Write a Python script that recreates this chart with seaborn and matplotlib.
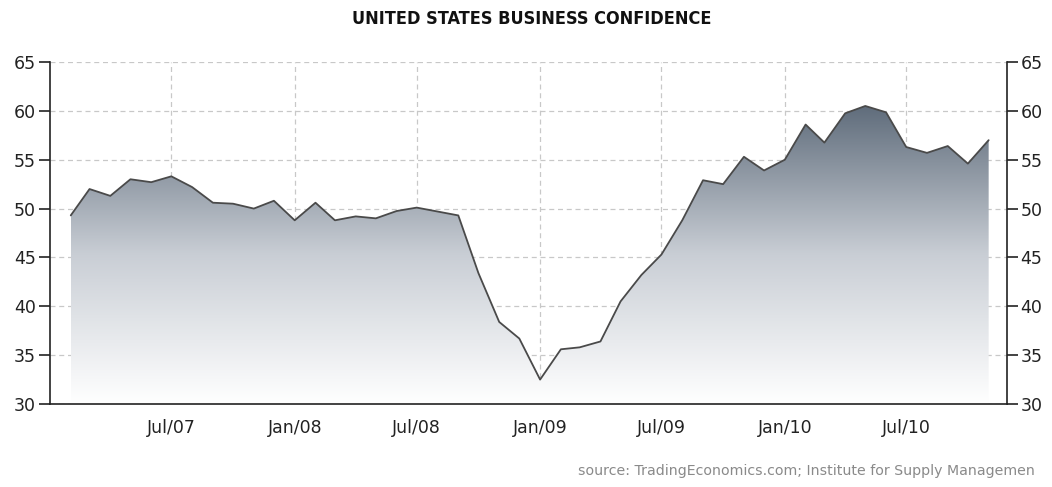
import numpy as np
import pandas as pd
import seaborn as sns
import matplotlib.pyplot as plt
import matplotlib.dates as mdates
from matplotlib.colors import LinearSegmentedColormap

sns.set_style('white')

# monthly ISM index, Feb 2007 - Nov 2010
months = pd.date_range('2007-02-01', '2010-11-01', freq='MS')
values = [49.3, 52.0, 51.3, 53.0, 52.7, 53.3, 52.2, 50.6, 50.5, 50.0, 50.8,
          48.8, 50.6, 48.8, 49.2, 49.0, 49.75, 50.1, 49.7, 49.3, 43.4, 38.4, 36.7,
          32.5, 35.6, 35.8, 36.4, 40.5, 43.2, 45.3, 48.8, 52.9, 52.5, 55.3, 53.9,
          55.0, 58.6, 56.75, 59.75, 60.5, 59.85, 56.3, 55.7, 56.4, 54.6, 57.0]
tick_dates = pd.to_datetime(['2007-07-01', '2008-01-01', '2008-07-01', '2009-01-01',
                             '2009-07-01', '2010-01-01', '2010-07-01'])
tick_labels = ['Jul/07', 'Jan/08', 'Jul/08', 'Jan/09', 'Jul/09', 'Jan/10', 'Jul/10']
y_ticks = [30, 35, 40, 45, 50, 55, 60, 65]

df = pd.DataFrame({'date': months, 'value': values})

fig = plt.figure(figsize=(10.52, 4.87), dpi=100)
ax = fig.add_axes([0.0475, 0.1704, 0.9095, 0.7023])

xmin = mdates.date2num(pd.Timestamp('2007-01-01'))
xmax = mdates.date2num(pd.Timestamp('2010-11-28'))

# gradient fill under the line
xs = mdates.date2num(df['date'])
poly = ax.fill_between(xs, df['value'], 30, color='none', lw=0)
cmap = LinearSegmentedColormap.from_list('slate', ['#ffffff', '#c9ced5', '#5f6c7b'])
grad = np.linspace(0, 1, 256).reshape(-1, 1)
img = ax.imshow(grad, cmap=cmap, origin='lower', aspect='auto',
                extent=[xs[0], xs[-1], 30, max(values)], zorder=1)
img.set_clip_path(poly.get_paths()[0], transform=ax.transData)

sns.lineplot(x=xs, y=df['value'], ax=ax, color='#4a4a4a', lw=1.3, zorder=3)

ax.set_xlim(xmin, xmax)
ax.set_ylim(30, 65)
ax.set_xticks(mdates.date2num(tick_dates))
ax.set_xticklabels(tick_labels)
ax.set_yticks(y_ticks)
ax.set_xlabel('')
ax.set_ylabel('')

ax.grid(True, color='#c8c8c8', linestyle=(0, (4, 3)), lw=0.9)
ax.set_axisbelow(True)
for s in ['left', 'right', 'bottom']:
    ax.spines[s].set_color('#222222')
    ax.spines[s].set_linewidth(1.2)
ax.spines['top'].set_visible(False)

ax.tick_params(axis='y', which='both', left=True, right=True, labelleft=True,
               labelright=True, direction='out', length=8, width=1.2,
               colors='#222222', labelsize=12.5, pad=2)
ax.tick_params(axis='x', direction='out', length=6, width=1.2, colors='#222222',
               labelsize=12.5, pad=5)

fig.text(0.505, 0.96, 'UNITED STATES BUSINESS CONFIDENCE', ha='center', va='center',
         fontsize=13, fontweight='bold', fontstretch='condensed', color='#111111')
fig.text(0.984, 0.033, 'source: TradingEconomics.com; Institute for Supply Managemen',
         ha='right', va='center', fontsize=10.2, color='#8a8a8a')

fig.savefig('out.png', dpi=100)
